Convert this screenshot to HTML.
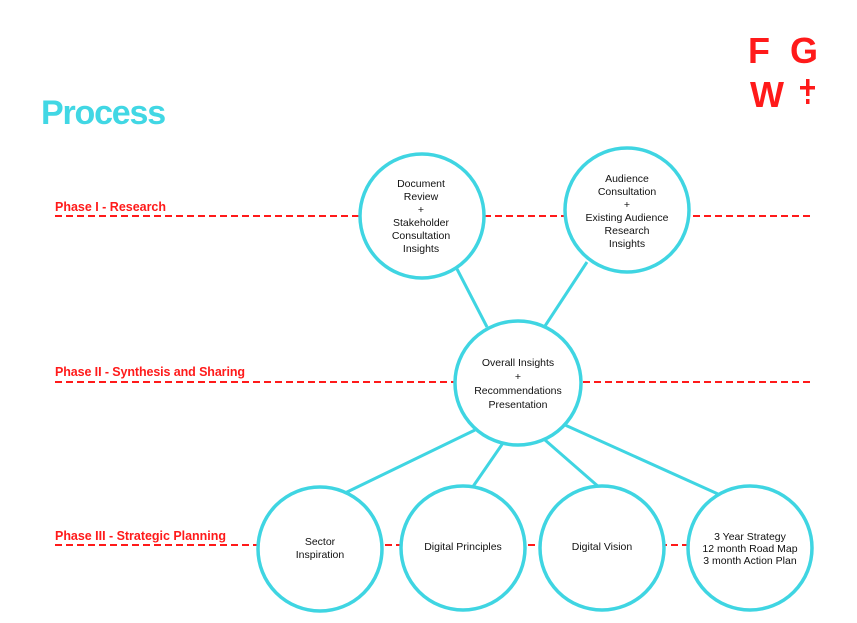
<!DOCTYPE html>
<html><head><meta charset="utf-8"><style>
html,body{margin:0;padding:0;background:#fff;}
svg{display:block;}
.c{fill:#fff;stroke:#3fd5e2;stroke-width:3.5;}
.l{stroke:#3fd5e2;stroke-width:3;}
.d{stroke:#ff1a1a;stroke-width:2;stroke-dasharray:7,4;}
.t{font-family:"Liberation Sans",sans-serif;font-size:10.5px;fill:#111;text-anchor:middle;}
.p{font-family:"Liberation Sans",sans-serif;font-size:12.5px;font-weight:bold;fill:#ff1a1a;}
</style></head><body>
<svg width="857" height="623" viewBox="0 0 857 623">
<text x="41" y="124" font-family="Liberation Sans,sans-serif" font-size="34" font-weight="bold" fill="#41d7e4" letter-spacing="-1.2">Process</text>
<g font-family="Liberation Sans,sans-serif" font-size="36" font-weight="bold" fill="#ff1a1a">
<text x="748" y="63">F</text><text x="790" y="63">G</text><text x="750" y="107">W</text>
</g>
<rect x="806" y="79" width="3.5" height="17" fill="#ff1a1a"/><rect x="800" y="86" width="15" height="3.5" fill="#ff1a1a"/><rect x="806" y="99" width="3.5" height="5" fill="#ff1a1a"/>
<line class="d" x1="55" y1="216" x2="813" y2="216"/>
<line class="d" x1="55" y1="382" x2="813" y2="382"/>
<line class="d" x1="55" y1="545" x2="700" y2="545"/>
<text class="p" x="55" y="211" textLength="111">Phase I - Research</text>
<text class="p" x="55" y="376" textLength="190">Phase II - Synthesis and Sharing</text>
<text class="p" x="55" y="540" textLength="171">Phase III - Strategic Planning</text>
<line class="l" x1="457" y1="269" x2="487" y2="327"/>
<line class="l" x1="587" y1="262" x2="545" y2="326"/>
<line class="l" x1="475" y1="430" x2="345" y2="493"/>
<line class="l" x1="503" y1="443" x2="472" y2="488"/>
<line class="l" x1="545" y1="440" x2="600" y2="488"/>
<line class="l" x1="565" y1="425" x2="718" y2="494"/>
<ellipse class="c" cx="422" cy="216" rx="62" ry="62"/>
<ellipse class="c" cx="627" cy="210" rx="62" ry="62"/>
<ellipse class="c" cx="518" cy="383" rx="63" ry="62"/>
<ellipse class="c" cx="320" cy="549" rx="62" ry="62"/>
<ellipse class="c" cx="463" cy="548" rx="62" ry="62"/>
<ellipse class="c" cx="602" cy="548" rx="62" ry="62"/>
<ellipse class="c" cx="750" cy="548" rx="62" ry="62"/>
<g class="t">
<text x="421" y="187">Document</text><text x="421" y="200">Review</text><text x="421" y="213">+</text><text x="421" y="226">Stakeholder</text><text x="421" y="239">Consultation</text><text x="421" y="252">Insights</text>
<text x="627" y="182">Audience</text><text x="627" y="195">Consultation</text><text x="627" y="208">+</text><text x="627" y="221">Existing Audience</text><text x="627" y="234">Research</text><text x="627" y="247">Insights</text>
<text x="518" y="366">Overall Insights</text><text x="518" y="380">+</text><text x="518" y="394">Recommendations</text><text x="518" y="408">Presentation</text>
<text x="320" y="545">Sector</text><text x="320" y="558">Inspiration</text>
<text x="463" y="550">Digital Principles</text>
<text x="602" y="550">Digital Vision</text>
<text x="750" y="540">3 Year Strategy</text><text x="750" y="552">12 month Road Map</text><text x="750" y="564">3 month Action Plan</text>
</g>
</svg>
</body></html>
